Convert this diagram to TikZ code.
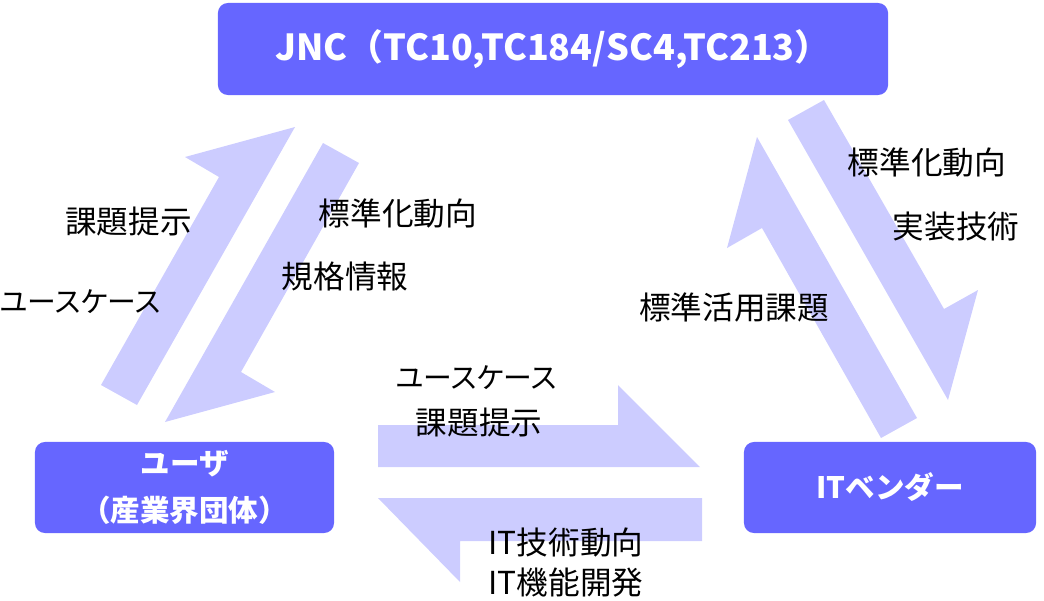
\documentclass[tikz,border=0pt]{standalone}
\usepackage{fontspec}
\newfontfamily\jpfont[RawFeature=+palt]{Noto Sans CJK JP}
\newfontfamily\jpboxfont{Noto Sans CJK JP}
\definecolor{boxblue}{RGB}{102,102,255}
\definecolor{arrowlav}{RGB}{204,204,255}
\begin{document}
\begin{tikzpicture}[x=0.025cm, y=-0.025cm, % 1 单位 = 1 像素, y 向下
  box/.style={fill=boxblue, rounded corners=0.25cm, text=white, align=center, inner sep=0pt,
    font=\jpboxfont\bfseries\fontsize{21}{33.4}\selectfont},
  lbl/.style={inner sep=0pt, font=\jpfont\fontsize{22.5}{26}\selectfont},
  kana/.style={inner sep=0pt, font=\jpfont\fontsize{20.5}{26}\selectfont}, % 片假名较窄
  blockarrow/.style={fill=arrowlav}]
\useasboundingbox (0,0) rectangle (1044,600); % 画布
% 左侧两个半箭头
\fill[blockarrow] (101,385) -- (219,177) -- (185,157) -- (295,127) -- (137,405) -- cycle; % 用户 -> JNC
\fill[blockarrow] (323,143) -- (359,163) -- (241,372) -- (275,392) -- (165,422) -- cycle; % JNC -> 用户
% 右侧两个半箭头
\fill[blockarrow] (881,438) -- (762,228) -- (727,248) -- (757,137) -- (917,418) -- cycle; % 供应商 -> JNC
\fill[blockarrow] (788,120) -- (824,100) -- (944,309) -- (978,290) -- (948,400) -- cycle; % JNC -> 供应商
% 下方两个水平半箭头
\fill[blockarrow] (378,425) -- (618,425) -- (618,385) -- (700,467) -- (378,467) -- cycle; % 用户 -> 供应商
\fill[blockarrow] (702,498) -- (702,541) -- (460,541) -- (460,582) -- (378,498) -- cycle; % 供应商 -> 用户
% 三个方框
\node[box, minimum width=16.75cm, minimum height=2.3cm,
  font=\jpboxfont\bfseries\fontsize{25.5}{28}\selectfont] (jnc) at (553,49) {JNC（TC10,TC184/SC4,TC213）};
\node[box, minimum width=7.475cm, minimum height=2.275cm] (user) at (184.5,487.5) {ユーザ\\（産業界団体）};
\node[box, minimum width=7.3cm, minimum height=2.275cm] (vendor) at (890,487.5) {ITベンダー};
% 左侧标注
\node[lbl] (kadaiL) at (128.5,222) {課題提示};
\node[kana] (usecaseL) at (80,302) {ユースケース};
\node[lbl] (trendL) at (398,213) {標準化動向};
\node[lbl] (specL) at (345,276) {規格情報};
% 右侧标注
\node[lbl] (issueR) at (734,307) {標準活用課題};
\node[lbl] (trendR) at (927,162) {標準化動向};
\node[lbl] (implR) at (956,227) {実装技術};
% 下方标注
\node[kana] (usecaseB) at (476,378) {ユースケース};
\node[lbl] (kadaiB) at (479,423) {課題提示};
\node[lbl] (itTrend) at (566,543) {IT技術動向};
\node[lbl] (itDev) at (566,583) {IT機能開発};
\end{tikzpicture}
\end{document}
